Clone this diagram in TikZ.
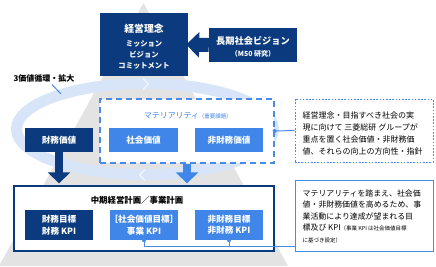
\documentclass[tikz,border=0pt]{standalone}
\usepackage{fontspec}
\setmainfont{Noto Sans CJK JP}
\usetikzlibrary{arrows.meta}
\definecolor{navy}{HTML}{0B3A7E}
\definecolor{mblue}{HTML}{3F86E8}
\definecolor{lblue}{HTML}{4A8AE8}
\definecolor{pyr}{HTML}{E3E3E3}
\definecolor{ringc}{HTML}{D8E5F8}
\begin{document}
\begin{tikzpicture}[x=1pt,y=-1pt,
  navybox/.style={draw=none,fill=navy,text=white,inner sep=0pt,font=\bfseries\fontsize{8.6}{10}\selectfont,align=center},
  bluebox/.style={draw=none,fill=mblue,text=white,inner sep=0pt,font=\bfseries\fontsize{8.6}{10}\selectfont,align=center},
  conn/.style={draw=lblue,line width=1pt},
  dot/.style={fill=lblue},
  notetext/.style={anchor=west,align=left,inner sep=0pt,text=black}]
\useasboundingbox (0,0) rectangle (436,266);
% pyramid
\fill[pyr] (143.5,3) -- (288,266) -- (-1,266) -- cycle;
% circulation ring
\draw[ringc,line width=11pt] (145,129) ellipse [x radius=128.5, y radius=45.5];
\draw[white,opacity=0.8,line width=0.8pt] (143,78.5) -- (148.5,84) -- (143,89.5);
\draw[white,opacity=0.8,line width=0.8pt] (145,169.5) -- (139.5,175) -- (145,180.5);
% label
\node[font=\bfseries\fontsize{8}{9}\selectfont,inner sep=0pt] (circ) at (44,78.5) {3価値循環・拡大};
\draw[conn] (52,84.5) -- (61,94);
% top boxes
\node[navybox,minimum width=88pt,minimum height=63pt] (top) at (144,44.5) {};
\node[text=white,font=\bfseries\fontsize{9.8}{11}\selectfont,inner sep=0pt] (toptitle) at (144,28.5) {経営理念};
\node[text=white,font=\bfseries\fontsize{7.3}{11}\selectfont,align=center,inner sep=0pt] (toplines) at (144,54.5) {ミッション\\ビジョン\\コミットメント};
\node[navybox,minimum width=88pt,minimum height=34pt] (vision) at (253,45) {};
\node[text=white,font=\bfseries\fontsize{9.2}{11}\selectfont,inner sep=0pt] (vtitle) at (253,41) {長期社会ビジョン};
\node[text=white,font=\bfseries\fontsize{7}{8}\selectfont,inner sep=0pt] (vsub) at (253,53.5) {（M50 研究）};
\draw[navy,line width=14pt,-{Triangle[width=25pt,length=13pt]}] (vision.west) -- ([xshift=-2pt]top.east);
% materiality
\node[draw=lblue,line width=1.3pt,dash pattern=on 6pt off 4pt,fill=white,minimum width=174pt,minimum height=64pt,inner sep=0pt] (mat) at (187,131) {};
\node[text=mblue,font=\fontsize{7.9}{9}\selectfont,inner sep=0pt] (mattitle) at (188,115.5) {マテリアリティ{\fontsize{5.5}{6}\selectfont（重要課題）}};
\node[bluebox,minimum width=69pt,minimum height=24pt] (shakai) at (143.5,140) {社会価値};
\node[bluebox,minimum width=68pt,minimum height=24pt] (hizaimu) at (229,140) {非財務価値};
\node[navybox,minimum width=68pt,minimum height=24pt] (zaimu) at (59,140) {財務価値};
% note 1
\node[draw=lblue,line width=1pt,dash pattern=on 1.6pt off 1.6pt,fill=white,minimum width=138pt,minimum height=63pt,inner sep=0pt] (note1) at (364,130.5) {};
\node[notetext,font=\fontsize{8}{11.8}\selectfont] (note1t) at ([xshift=8pt,yshift=-3pt]note1.west) {経営理念・目指すべき社会の実\\現に向けて 三菱総研 グループが\\重点を置く社会価値・非財務価\\値、それらの向上の方向性・指針};
\draw[conn] (mat.east) -- (note1.west);
\fill[dot] (mat.east) circle (2pt);
% plan box
\node[draw=navy,line width=1.3pt,fill=white,minimum width=260pt,minimum height=65pt,inner sep=0pt] (plan) at (144,218.5) {};
\node[font=\bfseries\fontsize{8.4}{10}\selectfont,inner sep=0pt] (plantitle) at (137,200) {中期経営計画／事業計画};
\node[navybox,minimum width=68pt,minimum height=30pt,font=\bfseries\fontsize{8.6}{11.5}\selectfont] (k1) at (59,225) {財務目標\\財務 KPI};
\node[bluebox,minimum width=68pt,minimum height=30pt,font=\bfseries\fontsize{8.6}{11.5}\selectfont] (k2) at (144,225) {［社会価値目標］\\事業 KPI};
\node[bluebox,minimum width=68pt,minimum height=30pt,font=\bfseries\fontsize{8.6}{11.5}\selectfont] (k3) at (229,225) {非財務目標\\非財務 KPI};
% arrows down
\draw[navy,line width=8pt,-{Triangle[width=22pt,length=11pt]}] (zaimu.south) -- ([yshift=2pt]zaimu.south |- plan.north);
\draw[mblue,line width=8pt,-{Triangle[width=22pt,length=11pt]}] (mat.south) -- ([yshift=2pt]mat.south |- plan.north);
% note 2
\node[draw=lblue,line width=1pt,fill=white,minimum width=138pt,minimum height=71pt,inner sep=0pt] (note2) at (364,215.5) {};
\node[notetext,font=\fontsize{7.9}{11.2}\selectfont] (note2t) at ([xshift=8pt,yshift=-1pt]note2.west) {マテリアリティを踏まえ、社会価\\値・非財務価値を高めるため、事\\業活動により達成が望まれる目\\標及び KPI{\fontsize{5.5}{6}\selectfont（事業 KPI は社会価値目標}\\[1pt]{\fontsize{5.5}{6}\selectfont に基づき設定）}};
\draw[conn] (k2.south) -- ++(0,6) coordinate (j) -- (j -| note2.west);
\draw[conn] (k3.south) -- (k3.south |- j);
\fill[dot] (k2.south) circle (2pt);
\fill[dot] (k3.south) circle (2pt);
\end{tikzpicture}
\end{document}
